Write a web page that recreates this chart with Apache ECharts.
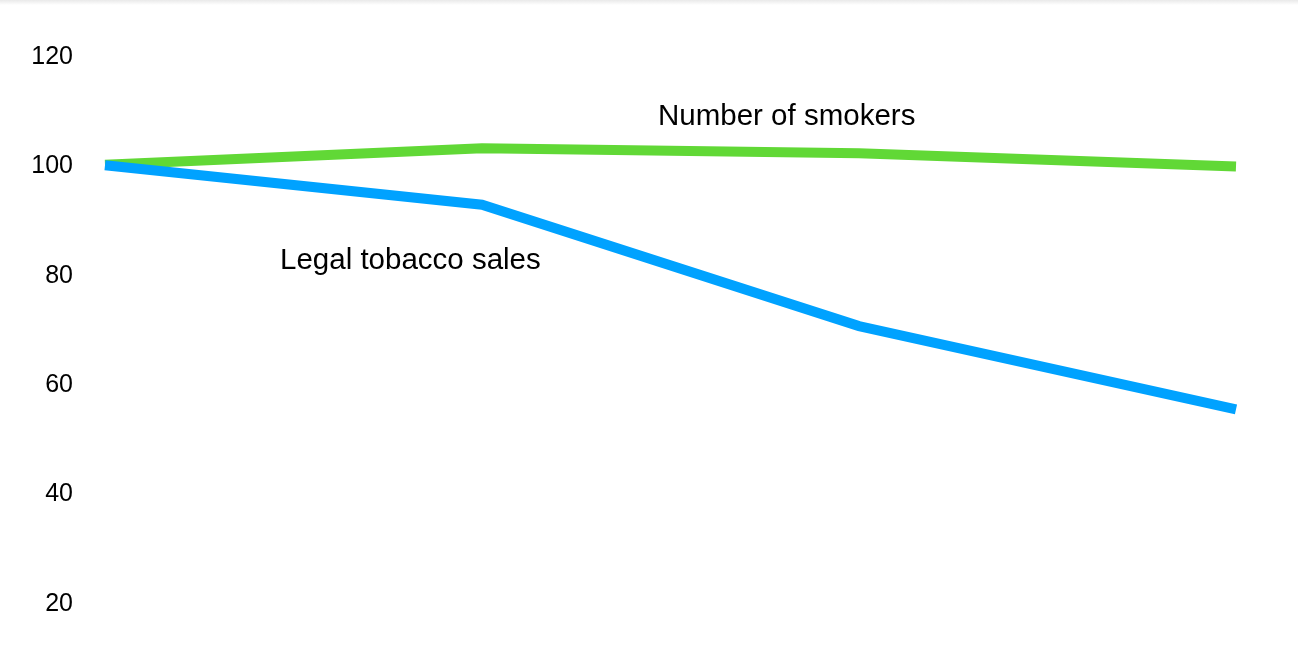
<!DOCTYPE html>
<html>
<head>
<meta charset="utf-8">
<script src="https://cdn.jsdelivr.net/npm/echarts@6/dist/echarts.min.js"></script>
<style>
html,body{margin:0;padding:0;background:#fff;}
#chart{width:1298px;height:650px;}
</style>
</head>
<body>
<div id="chart"></div>
<script>
var categories = ['P1', 'P2', 'P3', 'P4'];
var smokers = [100.3, 103.3, 102.4, 100.0];
var tobaccoSales = [100.2, 93.0, 70.8, 55.6];
var yTicks = [20, 40, 60, 80, 100, 120];

var FONT = '"Liberation Sans", Arial, Helvetica, sans-serif';
var chart = echarts.init(document.getElementById('chart'));
chart.setOption({
  backgroundColor: '#ffffff',
  animation: false,
  grid: { left: 105, right: 62, top: 57, bottom: 46, containLabel: false },
  xAxis: {
    type: 'category',
    data: categories,
    boundaryGap: false,
    axisLine: { show: false },
    axisTick: { show: false },
    axisLabel: { show: false },
    splitLine: { show: false }
  },
  yAxis: {
    type: 'value',
    min: yTicks[0],
    max: yTicks[yTicks.length - 1],
    interval: 20,
    axisLine: { show: false },
    axisTick: { show: false },
    splitLine: { show: false },
    axisLabel: { color: '#000', fontSize: 25, fontFamily: FONT, margin: 32 }
  },
  series: [
    {
      name: 'Number of smokers',
      type: 'line',
      data: smokers,
      symbol: 'none',
      lineStyle: { color: '#61D836', width: 10, cap: 'butt', join: 'miter' },
      z: 2
    },
    {
      name: 'Legal tobacco sales',
      type: 'line',
      data: tobaccoSales,
      symbol: 'none',
      lineStyle: { color: '#00A2FF', width: 10, cap: 'butt', join: 'miter' },
      z: 3
    }
  ],
  graphic: [
    {
      type: 'rect',
      left: 0, top: 0,
      shape: { width: 1298, height: 5 },
      style: {
        fill: new echarts.graphic.LinearGradient(0, 0, 0, 1, [
          { offset: 0, color: '#e9e9e9' },
          { offset: 1, color: '#ffffff' }
        ])
      },
      silent: true
    },
    {
      type: 'text',
      style: { x: 658, y: 117, text: 'Number of smokers', fill: '#000',
               font: '29.5px ' + FONT, verticalAlign: 'middle', align: 'left' }
    },
    {
      type: 'text',
      style: { x: 280, y: 261, text: 'Legal tobacco sales', fill: '#000',
               font: '29.5px ' + FONT, verticalAlign: 'middle', align: 'left' }
    }
  ]
});
</script>
</body>
</html>
